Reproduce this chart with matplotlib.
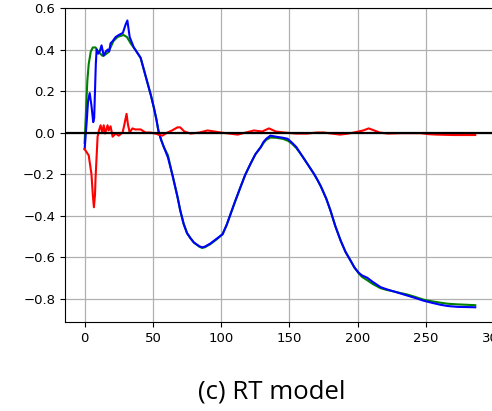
import matplotlib
matplotlib.use("Agg")
import matplotlib.pyplot as plt

# green curve
green_x = [0, 1, 2, 3, 4.5, 6, 8, 10, 13, 15, 17, 19, 21, 24, 26, 28.5, 31, 33.7, 37, 38.5,
           41, 43.5, 46, 48.5, 50.7, 52.5, 54, 56, 58, 61, 64.5, 68, 70, 72.5, 75, 77.6, 80,
           84, 86, 88, 92, 97, 101, 104, 107, 110, 114, 117.5, 121.5, 125, 129, 131, 133,
           136, 140, 145, 149, 152, 155, 157.5, 160, 162.5, 165, 168, 170.6, 173, 175, 177,
           180, 183.5, 187.4, 191, 194.7, 197.5, 200.6, 203, 207, 211, 216.7, 221, 226, 231,
           236, 242, 248, 254, 260.6, 266, 273, 280, 286]
green_y = [-0.05, 0.1, 0.25, 0.33, 0.39, 0.41, 0.41, 0.39, 0.37, 0.375, 0.385, 0.41, 0.44,
           0.46, 0.465, 0.47, 0.46, 0.43, 0.40, 0.385, 0.36, 0.30, 0.24, 0.18, 0.12, 0.065,
           0.01, -0.035, -0.07, -0.11, -0.21, -0.31, -0.375, -0.44, -0.485, -0.51, -0.53,
           -0.55, -0.556, -0.553, -0.538, -0.513, -0.49, -0.445, -0.39, -0.335, -0.265,
           -0.205, -0.15, -0.105, -0.07, -0.05, -0.035, -0.024, -0.025, -0.03, -0.04, -0.055,
           -0.075, -0.097, -0.12, -0.145, -0.17, -0.2, -0.23, -0.26, -0.29, -0.32, -0.376,
           -0.45, -0.52, -0.575, -0.617, -0.65, -0.678, -0.695, -0.712, -0.73, -0.75, -0.758,
           -0.765, -0.773, -0.78, -0.792, -0.805, -0.813, -0.82, -0.825, -0.828, -0.83, -0.832]

# blue curve
blue_x = [0, 1.5, 2.5, 3.7, 5, 6.3, 7, 8.2, 8.8, 10, 11, 12.4, 14, 15.5, 17, 18, 19, 20.5,
          22.7, 25, 28, 30, 31.3, 33, 36, 38.5, 41, 43.5, 46, 48.5, 50.7, 52.5, 54, 56, 58,
          61, 64.5, 68, 70, 72.5, 75, 77.6, 80, 84, 86, 88, 92, 97, 101, 104, 107, 110, 114,
          117.5, 121.5, 125, 129, 131, 133, 136, 140, 145, 148.6, 152, 155, 157.5, 160,
          162.5, 165, 168, 170.6, 173, 175, 177, 180, 183.5, 187.4, 191, 194.7, 197.5, 200.6,
          203, 207, 211, 216.7, 221, 226, 231, 236, 242, 248, 254, 260.6, 266, 273, 280, 286]
blue_y = [-0.08, 0.05, 0.15, 0.19, 0.13, 0.05, 0.07, 0.33, 0.40, 0.38, 0.39, 0.42, 0.37,
          0.39, 0.40, 0.39, 0.43, 0.44, 0.46, 0.47, 0.48, 0.52, 0.54, 0.46, 0.41, 0.385,
          0.36, 0.30, 0.24, 0.18, 0.12, 0.065, 0.01, -0.035, -0.07, -0.12, -0.21, -0.31,
          -0.375, -0.44, -0.485, -0.51, -0.53, -0.548, -0.553, -0.55, -0.535, -0.51, -0.49,
          -0.445, -0.39, -0.335, -0.265, -0.205, -0.15, -0.105, -0.07, -0.045, -0.03,
          -0.015, -0.02, -0.025, -0.03, -0.05, -0.07, -0.095, -0.12, -0.145, -0.17, -0.2,
          -0.23, -0.26, -0.29, -0.32, -0.376, -0.45, -0.52, -0.575, -0.617, -0.65, -0.675,
          -0.688, -0.70, -0.72, -0.745, -0.755, -0.765, -0.775, -0.785, -0.797, -0.81,
          -0.82, -0.83, -0.836, -0.84, -0.841, -0.842]

# red curve
red_x = [0, 3, 5, 6, 6.8, 7.6, 8, 9.5, 10.5, 11.7, 12.9, 14, 15, 16.8, 17.6, 19, 20.5, 22.7,
         25, 27.8, 29, 30.7, 31.7, 33, 35, 37, 41, 44.6, 48, 52, 54, 57, 60.6, 64, 68, 70,
         73, 77.6, 84, 90, 95, 99.6, 106, 112, 118, 124, 130, 135, 140, 146, 155, 163, 170,
         175, 181, 187, 193, 197, 204, 208, 212, 216, 222, 232, 240, 246, 252, 258, 270, 286]
red_y = [-0.08, -0.11, -0.2, -0.3, -0.36, -0.3, -0.22, -0.02, 0.01, 0.035, 0.0, 0.035,
         -0.005, 0.035, 0.01, 0.03, -0.02, -0.005, -0.015, 0.0, 0.035, 0.09, 0.04, 0.0, 0.02,
         0.015, 0.015, 0.0, 0.0, -0.005, -0.01, -0.015, 0.0, 0.01, 0.025, 0.025, 0.005,
         -0.005, 0.0, 0.01, 0.005, 0.0, -0.005, -0.01, 0.0, 0.01, 0.005, 0.02, 0.005, 0.0,
         -0.005, -0.005, 0.0, 0.0, -0.005, -0.01, -0.005, 0.0, 0.01, 0.02, 0.01, 0.0, -0.005,
         -0.003, -0.003, -0.003, -0.008, -0.01, -0.012, -0.012]

x_ticks = [0, 50, 100, 150, 200, 250, 300]
y_ticks = [-0.8, -0.6, -0.4, -0.2, 0.0, 0.2, 0.4, 0.6]

fig = plt.figure(figsize=(4.92, 4.11), dpi=100)
ax = fig.add_axes([0.132, 0.2165, 0.8795, 0.764])

ax.plot(green_x, green_y, color="green", lw=1.5)
ax.plot(blue_x, blue_y, color="blue", lw=1.5)
ax.plot(red_x, red_y, color="red", lw=1.5)
ax.axhline(0, color="black", lw=1.6)

ax.set_xlim(-14.4, 302.4)
ax.set_ylim(-0.913, 0.6)
ax.set_xticks(x_ticks)
ax.set_yticks(y_ticks)
ax.tick_params(labelsize=9.5)
ax.grid(True, color="#b0b0b0", lw=0.9)
ax.set_axisbelow(True)

fig.text(272 / 492, 1 - 398 / 411, "(c) RT model", ha="center", va="baseline",
         fontsize=18.5, family="Open Sans")

fig.savefig("out.png", dpi=100)
